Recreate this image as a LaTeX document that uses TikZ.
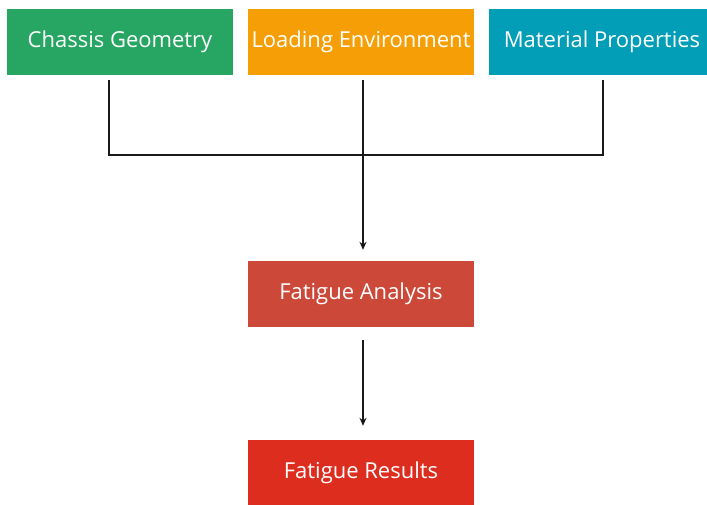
\documentclass[tikz,border=0pt]{standalone}
\usepackage{fontspec}
\setmainfont{Open Sans}
\usepackage{tikz}
\usepackage{xcolor}
\usetikzlibrary{arrows.meta}

\definecolor{geomgreen}{HTML}{26A662}
\definecolor{loadorange}{HTML}{F69E05}
\definecolor{matteal}{HTML}{029DB6}
\definecolor{analred}{HTML}{CC4839}
\definecolor{resred}{HTML}{DD2D1E}

\begin{document}
\begin{tikzpicture}[x=1pt, y=-1pt,
	box/.style={minimum width=226pt, minimum height=66pt, inner sep=0pt, text=white, font=\fontsize{22}{26}\selectfont},
	conn/.style={line width=2.6pt, color=black!90},
	arr/.style={conn, -{Stealth[length=8pt, width=7pt]}}]
				\useasboundingbox (0, 0) rectangle (707, 504);
				\node[box, fill=geomgreen] (chassis) at (120, 42) {Chassis Geometry};
				\node[box, fill=loadorange] (loading) at (361, 42) {Loading Environment};
				\node[box, fill=matteal] (material) at (602, 42) {Material Properties};
				\node[box, fill=analred] (analysis) at (361, 294) {Fatigue Analysis};
				\node[box, fill=resred] (results) at (361, 473) {Fatigue Results};
				\coordinate (join) at (363, 155);
				\draw[conn] ([xshift=-11pt, yshift=-5pt]chassis.south) |- (join);
				\draw[conn] ([xshift=1pt, yshift=-5pt]material.south) |- (join);
				\draw[arr] ([xshift=2pt, yshift=-5pt]loading.south) -- ([xshift=2pt, yshift=11pt]analysis.north);
				\draw[arr] ([xshift=2pt, yshift=-13pt]analysis.south) -- ([xshift=2pt, yshift=14pt]results.north);
			\end{tikzpicture}
\end{document}
